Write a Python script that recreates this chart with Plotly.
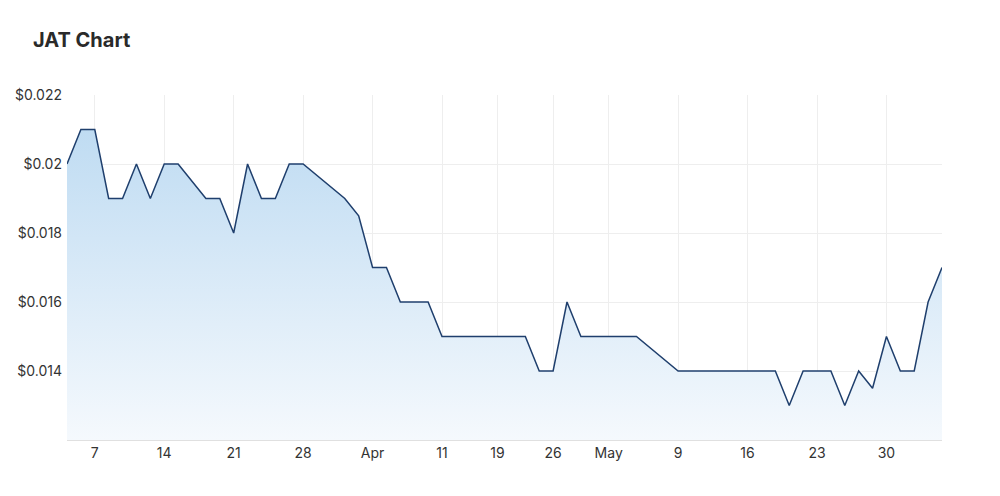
import plotly.graph_objects as go

# Trading days (ASX), 2022
dates = [
    "2022-03-03", "2022-03-04", "2022-03-07", "2022-03-08", "2022-03-09", "2022-03-10", "2022-03-11",
    "2022-03-14", "2022-03-15", "2022-03-16", "2022-03-17", "2022-03-18",
    "2022-03-21", "2022-03-22", "2022-03-23", "2022-03-24", "2022-03-25",
    "2022-03-28", "2022-03-29", "2022-03-30", "2022-03-31", "2022-04-01",
    "2022-04-04", "2022-04-05", "2022-04-06", "2022-04-07", "2022-04-08",
    "2022-04-11", "2022-04-12", "2022-04-13", "2022-04-14",
    "2022-04-19", "2022-04-20", "2022-04-21", "2022-04-22",
    "2022-04-26", "2022-04-27", "2022-04-28", "2022-04-29",
    "2022-05-02", "2022-05-03", "2022-05-04", "2022-05-05", "2022-05-06",
    "2022-05-09", "2022-05-10", "2022-05-11", "2022-05-12", "2022-05-13",
    "2022-05-16", "2022-05-17", "2022-05-18", "2022-05-19", "2022-05-20",
    "2022-05-23", "2022-05-24", "2022-05-25", "2022-05-26", "2022-05-27",
    "2022-05-30", "2022-05-31", "2022-06-01", "2022-06-02", "2022-06-03",
]

prices = [
    0.020, 0.021, 0.021, 0.019, 0.019, 0.020, 0.019,
    0.020, 0.020, None, 0.019, 0.019,
    0.018, 0.020, 0.019, 0.019, 0.020,
    0.020, None, None, 0.019, 0.0185,
    0.017, 0.017, 0.016, 0.016, 0.016,
    0.015, 0.015, 0.015, 0.015,
    0.015, 0.015, 0.015, 0.014,
    0.014, 0.016, 0.015, 0.015,
    0.015, 0.015, 0.015, None, None,
    0.014, 0.014, 0.014, 0.014, 0.014,
    0.014, 0.014, 0.014, 0.013, 0.014,
    0.014, 0.014, 0.013, 0.014, 0.0135,
    0.015, 0.014, 0.014, 0.016, 0.017,
]

x_tick_dates = ["2022-03-07", "2022-03-14", "2022-03-21", "2022-03-28", "2022-04-04",
                "2022-04-11", "2022-04-19", "2022-04-26", "2022-05-02", "2022-05-09",
                "2022-05-16", "2022-05-23", "2022-05-30"]
x_tick_labels = ["7", "14", "21", "28", "Apr", "11", "19", "26", "May", "9", "16", "23", "30"]

y_tick_vals = [0.014, 0.016, 0.018, 0.020, 0.022]
y_tick_labels = ["$0.014", "$0.016", "$0.018", "$0.02", "$0.022"]

fig = go.Figure()
fig.add_trace(go.Scatter(
    x=dates, y=prices, mode="lines", connectgaps=True,
    line=dict(color="#1f3f6d", width=1.5),
    fill="tozeroy",
    fillgradient=dict(type="vertical", start=0.012, stop=0.0212,
                      colorscale=[[0, "rgba(245,249,253,1)"], [1, "rgba(190,219,242,1)"]]),
    hoverinfo="skip",
))

font_family = "Inter, 'Open Sans', sans-serif"
fig.update_layout(
    width=1000, height=496,
    margin=dict(l=67, r=58, t=95, b=56),
    paper_bgcolor="white", plot_bgcolor="white",
    showlegend=False,
    font=dict(family=font_family, size=14, color="#333333"),
    title=dict(text="<b>JAT Chart</b>", x=0.033, xanchor="left", y=0.919, yanchor="middle",
               font=dict(family=font_family, size=20, color="#2a2a2a")),
)
fig.update_xaxes(
    type="category", range=[0, len(dates) - 1],
    tickmode="array", tickvals=x_tick_dates, ticktext=x_tick_labels,
    showgrid=True, gridcolor="#eeeeee", gridwidth=1,
    showline=True, linecolor="#e0e0e0", linewidth=1,
    ticks="", tickfont=dict(size=14, color="#333333"),
    zeroline=False,
)
fig.update_yaxes(
    range=[0.012, 0.022],
    tickmode="array", tickvals=y_tick_vals, ticktext=y_tick_labels,
    showgrid=True, gridcolor="#eeeeee", gridwidth=1,
    ticks="", ticklabelstandoff=4, tickfont=dict(size=14, color="#333333"),
    zeroline=False, showline=False,
)

fig.write_html("out.html")
